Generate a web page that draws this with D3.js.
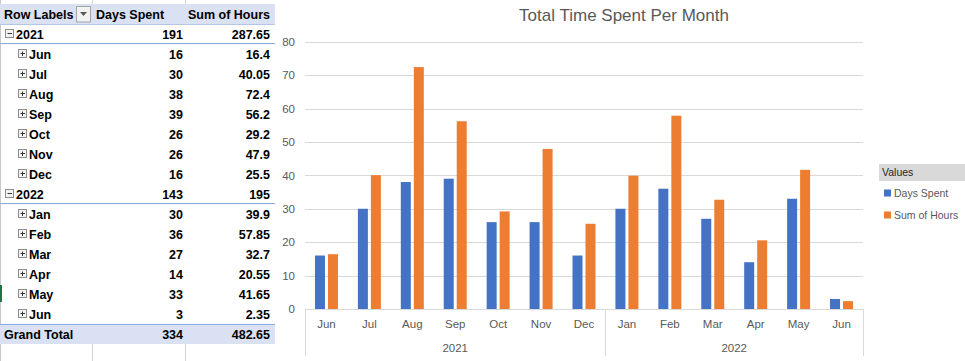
<!DOCTYPE html>
<html>
<head>
<meta charset="utf-8">
<script src="https://cdn.jsdelivr.net/npm/d3@7"></script>
<style>
  html, body { margin: 0; padding: 0; background: #fff; }
  svg { display: block; }
</style>
</head>
<body>
<svg id="chart" width="965" height="361"></svg>
<script>
// ---------- DATA ----------
const years = ["2021", "2022"];
const months = ["Jun", "Jul", "Aug", "Sep", "Oct", "Nov", "Dec", "Jan", "Feb", "Mar", "Apr", "May", "Jun"];
const monthYear = ["2021", "2021", "2021", "2021", "2021", "2021", "2021", "2022", "2022", "2022", "2022", "2022", "2022"];
const daysSpent = [16, 30, 38, 39, 26, 26, 16, 30, 36, 27, 14, 33, 3];
const sumOfHours = [16.4, 40.05, 72.4, 56.2, 29.2, 47.9, 25.5, 39.9, 57.85, 32.7, 20.55, 41.65, 2.35];
const seriesNames = ["Days Spent", "Sum of Hours"];
const seriesColors = ["#4472C4", "#ED7D31"];
const yTicks = [0, 10, 20, 30, 40, 50, 60, 70, 80];
const chartTitle = "Total Time Spent Per Month";
const tableHeaders = ["Row Labels", "Days Spent", "Sum of Hours"];

const fmt = v => String(+v.toFixed(2));
const svg = d3.select("#chart");

// ---------- PIVOT TABLE ----------
const tFont = "'Liberation Sans', Arial, sans-serif";
const colX = [0, 92, 185, 275];
const rowTop = 24, rowH = 20;

// table rows built from data
const tableRows = [];
years.forEach(y => {
  const idx = d3.range(months.length).filter(i => monthYear[i] === y);
  tableRows.push({type: "year", label: y, d: d3.sum(idx, i => daysSpent[i]), h: d3.sum(idx, i => sumOfHours[i])});
  idx.forEach(i => tableRows.push({type: "month", label: months[i], d: daysSpent[i], h: sumOfHours[i]}));
});
tableRows.push({type: "total", label: "Grand Total", d: d3.sum(daysSpent), h: d3.sum(sumOfHours)});

const tg = svg.append("g");
// faint grid lines above/below table
[colX[1], colX[2]].forEach(x => {
  tg.append("line").attr("x1", x + 0.5).attr("x2", x + 0.5).attr("y1", 0).attr("y2", 4).attr("stroke", "#d4d4d4");
  tg.append("line").attr("x1", x + 0.5).attr("x2", x + 0.5).attr("y1", rowTop + rowH * tableRows.length).attr("y2", 361).attr("stroke", "#d4d4d4");
});
tg.append("line").attr("x1", 0.5).attr("x2", 0.5).attr("y1", 0).attr("y2", 361).attr("stroke", "#c8c8c8");
tg.append("rect").attr("x", 0).attr("y", 285).attr("width", 2).attr("height", 17).attr("fill", "#217346");

// header
tg.append("rect").attr("x", 0).attr("y", 4).attr("width", colX[3]).attr("height", 20).attr("fill", "#D9E1F2");
tg.append("line").attr("x1", 0).attr("x2", colX[3]).attr("y1", 24.5).attr("y2", 24.5).attr("stroke", "#B4C6E7");
const hdrX = [4, 96, 188];
tableHeaders.forEach((h, i) => {
  tg.append("text").attr("x", hdrX[i]).attr("y", 14).attr("dy", "0.36em")
    .attr("font-family", tFont).attr("font-weight", "bold").attr("font-size", "12.5px").attr("fill", "#000").text(h);
});
// dropdown button
tg.append("rect").attr("x", 76.5).attr("y", 6.5).attr("width", 14).attr("height", 15.5).attr("fill", "#f2f2f2").attr("stroke", "#a6a6a6");
tg.append("path").attr("d", "M80,12 L87,12 L83.5,16 Z").attr("fill", "#595959");

tableRows.forEach((r, i) => {
  const y0 = rowTop + rowH * i;
  const cy = y0 + rowH / 2;
  if (r.type === "total") {
    tg.append("rect").attr("x", 0).attr("y", y0).attr("width", colX[3]).attr("height", rowH).attr("fill", "#D9E1F2");
    tg.append("line").attr("x1", 0).attr("x2", colX[3]).attr("y1", y0 + 0.5).attr("y2", y0 + 0.5).attr("stroke", "#8EA9DB");
  }
  if (r.type === "year") {
    tg.append("line").attr("x1", 0).attr("x2", colX[3]).attr("y1", y0 + rowH - 0.5).attr("y2", y0 + rowH - 0.5).attr("stroke", "#8EA9DB");
    tg.append("rect").attr("x", 5.5).attr("y", cy - 4.5).attr("width", 8).attr("height", 8).attr("fill", "#f4f4f4").attr("stroke", "#8c8c8c");
    tg.append("line").attr("x1", 7.5).attr("x2", 12).attr("y1", cy - 0.5).attr("y2", cy - 0.5).attr("stroke", "#333");
  }
  if (r.type === "month") {
    tg.append("rect").attr("x", 18.5).attr("y", cy - 4.5).attr("width", 8).attr("height", 8).attr("fill", "#f4f4f4").attr("stroke", "#8c8c8c");
    tg.append("line").attr("x1", 20.5).attr("x2", 25).attr("y1", cy - 0.5).attr("y2", cy - 0.5).attr("stroke", "#333");
    tg.append("line").attr("x1", 22.5).attr("x2", 22.5).attr("y1", cy - 2.5).attr("y2", cy + 2).attr("stroke", "#333");
  }
  const lx = r.type === "year" ? 16 : r.type === "month" ? 29 : 4;
  const t = (x, txt, anchor) => tg.append("text").attr("x", x).attr("y", cy).attr("dy", "0.36em")
    .attr("text-anchor", anchor).attr("font-family", tFont).attr("font-weight", "bold")
    .attr("font-size", "12.5px").attr("fill", "#000").text(txt);
  t(lx, r.label, "start");
  t(183, fmt(r.d), "end");
  t(270, fmt(r.h), "end");
});

// ---------- CHART ----------
const cFont = "'Liberation Sans', Arial, sans-serif";
const textColor = "#595959";
const plotLeft = 305, plotRight = 863, plotTop = 41.7, plotBottom = 309;

const y = d3.scaleLinear().domain([0, 80]).range([plotBottom, plotTop]);
const x = d3.scaleBand().domain(d3.range(months.length)).range([plotLeft, plotRight]).paddingInner(0).paddingOuter(0);
const groupW = 23;
const x1 = d3.scaleBand().domain(seriesNames)
  .range([x.bandwidth() / 2 - groupW / 2, x.bandwidth() / 2 + groupW / 2]).paddingInner(3 / 13);

const cg = svg.append("g");

// title
cg.append("text").attr("x", 624).attr("y", 15).attr("dy", "0.35em").attr("text-anchor", "middle")
  .attr("font-family", cFont).attr("font-size", "17px").attr("fill", textColor).text(chartTitle);

// gridlines + y labels via axis
const yAxis = d3.axisLeft(y).tickValues(yTicks).tickSize(-(plotRight - plotLeft)).tickPadding(10);
const ya = cg.append("g").attr("transform", `translate(${plotLeft},0)`).call(yAxis);
ya.select(".domain").remove();
ya.selectAll(".tick line").attr("stroke", "#d9d9d9").attr("stroke-width", 1)
  .attr("shape-rendering", "crispEdges");
ya.selectAll(".tick text").attr("font-family", cFont).attr("font-size", "11.5px").attr("fill", textColor);

// bars
const seriesData = [daysSpent, sumOfHours];
seriesNames.forEach((s, si) => {
  cg.append("g").selectAll("rect").data(seriesData[si]).join("rect")
    .attr("x", (d, i) => x(i) + x1(s))
    .attr("width", x1.bandwidth())
    .attr("y", d => y(d))
    .attr("height", d => y(0) - y(d))
    .attr("fill", seriesColors[si]);
});

// category axis
const xa = cg.append("g").attr("transform", `translate(0,${plotBottom})`)
  .call(d3.axisBottom(x).tickFormat(i => months[i]).tickSize(0).tickPadding(11));
xa.select(".domain").attr("stroke", "#d9d9d9");
xa.selectAll(".tick text").attr("font-family", cFont).attr("font-size", "11.5px").attr("fill", textColor);

// year groups
const groupBounds = years.map(yr => {
  const idx = d3.range(months.length).filter(i => monthYear[i] === yr);
  return {yr, x0: x(idx[0]), x1: x(idx[idx.length - 1]) + x.bandwidth()};
});
const dividers = [plotLeft, ...groupBounds.map(g => g.x1)];
cg.append("g").selectAll("line").data(dividers).join("line")
  .attr("x1", d => Math.round(d) + 0.5).attr("x2", d => Math.round(d) + 0.5)
  .attr("y1", plotBottom).attr("y2", 356).attr("stroke", "#d9d9d9");
cg.append("g").selectAll("text").data(groupBounds).join("text")
  .attr("x", d => (d.x0 + d.x1) / 2).attr("y", 348).attr("dy", "0.35em").attr("text-anchor", "middle")
  .attr("font-family", cFont).attr("font-size", "11.5px").attr("fill", textColor).text(d => d.yr);

// legend
const lg = cg.append("g");
lg.append("rect").attr("x", 879).attr("y", 164).attr("width", 86).attr("height", 17).attr("fill", "#d9d9d9");
lg.append("text").attr("x", 882).attr("y", 172.5).attr("dy", "0.35em")
  .attr("font-family", cFont).attr("font-size", "10.5px").attr("fill", "#262626").text("Values");
seriesNames.forEach((s, i) => {
  const cy = 193 + i * 22;
  lg.append("rect").attr("x", 884).attr("y", cy - 3.5).attr("width", 7).attr("height", 7).attr("fill", seriesColors[i]);
  lg.append("text").attr("x", 894).attr("y", cy).attr("dy", "0.35em")
    .attr("font-family", cFont).attr("font-size", "10.5px").attr("fill", textColor).text(s);
});
</script>
</body>
</html>
